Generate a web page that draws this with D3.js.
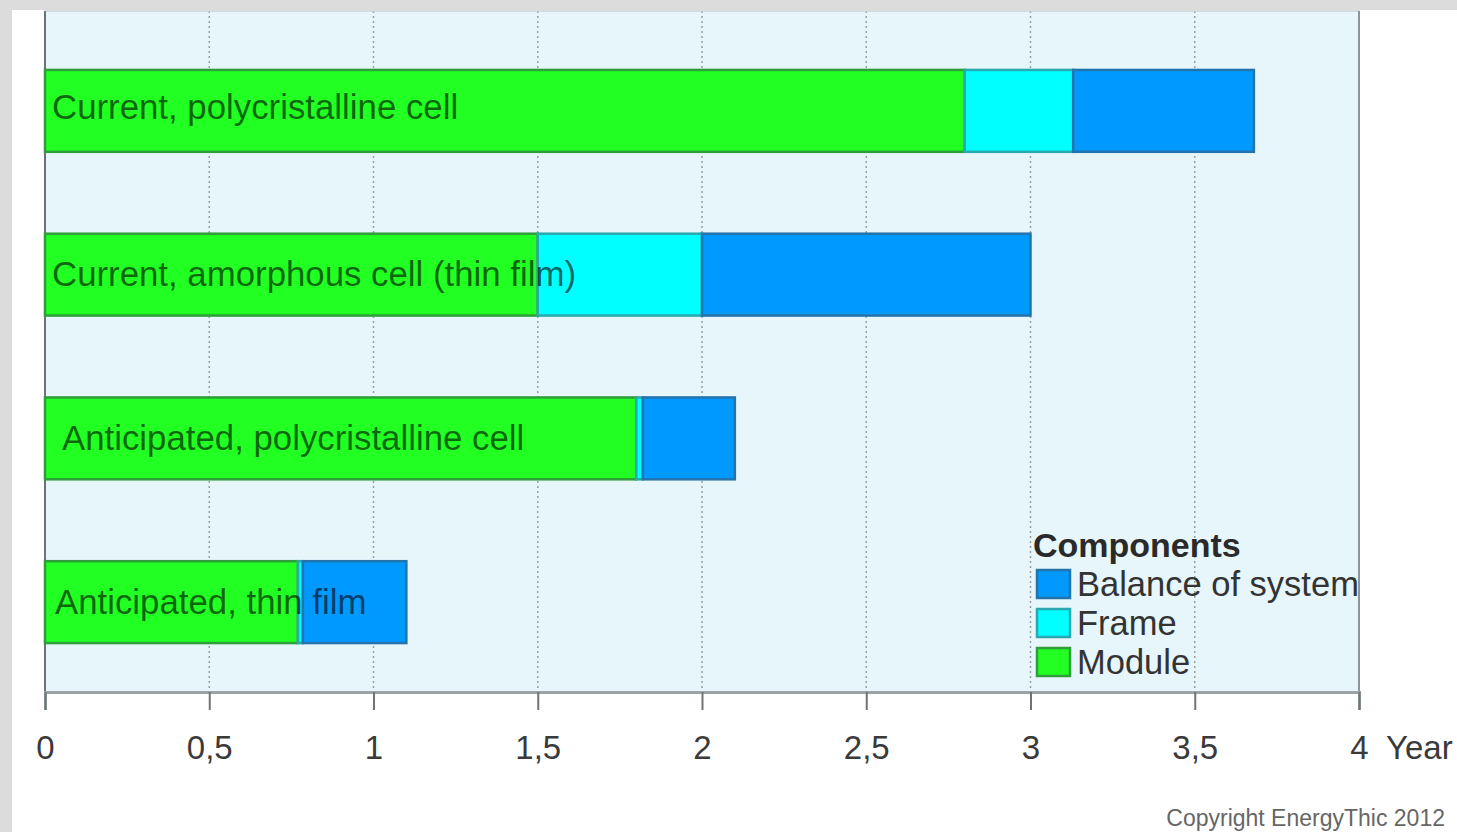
<!DOCTYPE html>
<html>
<head>
<meta charset="utf-8">
<script src="https://cdn.jsdelivr.net/npm/d3@7"></script>
<style>
  html, body { margin: 0; padding: 0; background: #ffffff; }
  svg { display: block; font-family: "Liberation Sans", Arial, sans-serif; }
</style>
</head>
<body>
<svg id="chart" width="1457" height="832"></svg>
<script>
// Energy payback time of PV systems, by component (years)
const categories = [
  "Current, polycristalline cell",
  "Current, amorphous cell (thin film)",
  "Anticipated, polycristalline cell",
  "Anticipated, thin film"
];
const module = [2.80, 1.50, 1.80, 0.77];
const frame = [0.33, 0.50, 0.02, 0.015];
const balanceOfSystem = [0.55, 1.00, 0.28, 0.315];
const componentNames = ["Module", "Frame", "Balance of system"];
const tickValues = [0, 0.5, 1, 1.5, 2, 2.5, 3, 3.5, 4];
const axisTitle = "Year";
const legendTitle = "Components";
const copyright = "Copyright EnergyThic 2012";

const colors = { "Module": "#22ff22", "Frame": "#00ffff", "Balance of system": "#0099ff" };
const strokes = { "Module": "#2e9e3a", "Frame": "#2aa8b0", "Balance of system": "#2474ac" };

const svg = d3.select("#chart");
const W = 1457, H = 832;
const plot = { left: 45, right: 1360, top: 11, bottom: 692 };

// page frame
svg.append("rect").attr("width", W).attr("height", H).attr("fill", "#ffffff");
svg.append("rect").attr("x", 0).attr("y", 0).attr("width", W).attr("height", 10).attr("fill", "#dcdcdc");
svg.append("rect").attr("x", 0).attr("y", 0).attr("width", 12).attr("height", H).attr("fill", "#dcdcdc");

// plot background
svg.append("rect")
  .attr("x", plot.left).attr("y", plot.top)
  .attr("width", plot.right - plot.left).attr("height", plot.bottom - plot.top)
  .attr("fill", "#e7f6fb");

const x = d3.scaleLinear().domain([0, 4]).range([plot.left, plot.right - 1]);
const y = d3.scaleBand().domain(categories).range([29, 684]).paddingInner(0.5).paddingOuter(0.25);

// dotted vertical gridlines
svg.append("g").selectAll("line")
  .data(tickValues.filter(v => v > 0 && v < 4))
  .join("line")
  .attr("x1", d => x(d)).attr("x2", d => x(d))
  .attr("y1", plot.top).attr("y2", plot.bottom)
  .attr("stroke", "#9a9fa2").attr("stroke-width", 1.5)
  .attr("stroke-dasharray", "2,3");

// plot frame lines
svg.append("line").attr("x1", plot.left).attr("x2", plot.right).attr("y1", plot.top).attr("y2", plot.top)
  .attr("stroke", "#c8d2d6").attr("stroke-width", 1.5);
svg.append("line").attr("x1", plot.right - 1).attr("x2", plot.right - 1).attr("y1", plot.top).attr("y2", plot.bottom)
  .attr("stroke", "#8c9699").attr("stroke-width", 2);
svg.append("line").attr("x1", plot.left).attr("x2", plot.left).attr("y1", plot.top).attr("y2", plot.bottom)
  .attr("stroke", "#6d7275").attr("stroke-width", 2);

// stacked bars
const rows = categories.map((c, i) => ({
  category: c, "Module": module[i], "Frame": frame[i], "Balance of system": balanceOfSystem[i]
}));
const series = d3.stack().keys(componentNames)(rows);

const barG = svg.append("g");
series.forEach(s => {
  barG.append("g").selectAll("rect")
    .data(s)
    .join("rect")
    .attr("x", d => x(d[0]))
    .attr("y", d => y(d.data.category))
    .attr("width", d => x(d[1]) - x(d[0]))
    .attr("height", y.bandwidth())
    .attr("fill", colors[s.key])
    .attr("stroke", strokes[s.key])
    .attr("stroke-width", 2.5);
});

// bar labels
const labelDx = [7, 7, 17, 10];
const labelDy = [8, 11, 12, 12];
svg.append("g").selectAll("text")
  .data(categories)
  .join("text")
  .attr("x", (d, i) => plot.left + labelDx[i])
  .attr("y", (d, i) => y(d) + y.bandwidth() / 2 + labelDy[i])
  .attr("font-size", 34.8)
  .attr("fill", "#000")
  .attr("fill-opacity", 0.6)
  .text(d => d);

// bottom axis
const axis = d3.axisBottom(x)
  .tickValues(tickValues)
  .tickSize(18)
  .tickPadding(20)
  .tickFormat(d => String(d).replace(".", ","));
const axG = svg.append("g").attr("transform", `translate(0,${plot.bottom})`).call(axis);
axG.select(".domain").attr("stroke", "#9aa3a6").attr("stroke-width", 3);
axG.selectAll(".tick line").attr("stroke", "#6f7477").attr("stroke-width", 2);
axG.selectAll(".tick text")
  .attr("y", 67).attr("dy", null)
  .attr("font-size", 33).attr("fill", "#3a3a3a")
  .attr("font-family", "Liberation Sans, Arial, sans-serif");

svg.append("text")
  .attr("x", 1386).attr("y", 759)
  .attr("font-size", 33).attr("fill", "#3a3a3a")
  .text(axisTitle);

// legend, clipped at the plot frame
svg.append("clipPath").attr("id", "plotClip")
  .append("rect").attr("x", plot.left).attr("y", plot.top)
  .attr("width", plot.right - plot.left - 2).attr("height", plot.bottom - plot.top);

const legend = svg.append("g").attr("clip-path", "url(#plotClip)");
legend.append("text")
  .attr("x", 1033).attr("y", 557)
  .attr("font-size", 34).attr("font-weight", "bold").attr("fill", "#2a2a2a")
  .text(legendTitle);

const legendOrder = componentNames.slice().reverse();
const item = legend.selectAll("g.item")
  .data(legendOrder)
  .join("g")
  .attr("class", "item")
  .attr("transform", (d, i) => `translate(1037,${570 + i * 39})`);
item.append("rect")
  .attr("width", 33).attr("height", 28)
  .attr("fill", d => colors[d])
  .attr("stroke", d => strokes[d]).attr("stroke-width", 2.5);
item.append("text")
  .attr("x", 40).attr("y", 26)
  .attr("font-size", 34.5).attr("fill", "#333")
  .text(d => d);

// copyright note
svg.append("text")
  .attr("x", 1445).attr("y", 826)
  .attr("text-anchor", "end")
  .attr("font-size", 23).attr("fill", "#666")
  .text(copyright);
</script>
</body>
</html>
